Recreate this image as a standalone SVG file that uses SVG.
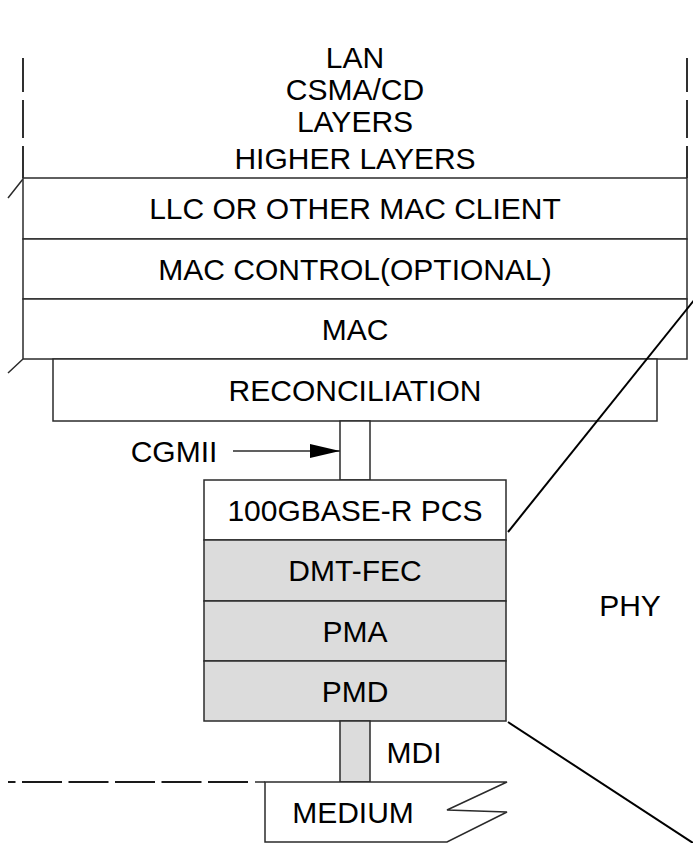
<svg xmlns="http://www.w3.org/2000/svg" width="693" height="843" viewBox="0 0 693 843">
  <defs>
    <style>
      .box { fill: #ffffff; stroke: #2b2b2b; stroke-width: 1.5; }
      .shade { fill: #dcdcdc; stroke: #2b2b2b; stroke-width: 1.5; }
      .rule { fill: none; stroke: #2b2b2b; stroke-width: 1.5; }
      .dash { fill: none; stroke: #1a1a1a; stroke-width: 1.8; }
      .fan { fill: none; stroke: #000000; stroke-width: 2; }
      text { font-family: "Liberation Sans", Arial, sans-serif; font-size: 30px; fill: #000000; text-anchor: middle; }
    </style>
    <marker id="arrowhead" viewBox="0 0 30 14" refX="30" refY="7" markerWidth="30" markerHeight="14" markerUnits="userSpaceOnUse" orient="auto">
      <path d="M0,0 L30,7 L0,14 Z" fill="#000000"/>
    </marker>
  </defs>

  <!-- Title of the layer stack -->
  <g id="title">
    <text x="355" y="68">LAN</text>
    <text x="355" y="100">CSMA/CD</text>
    <text x="355" y="132">LAYERS</text>
  </g>

  <!-- Dashed side walls above the stack -->
  <g id="walls">
    <path class="dash" d="M23,58V92M23,100V138M23,146V178"/>
    <path class="dash" d="M687,58V92M687,100V138M687,146V178"/>
    <path class="rule" d="M23,179L8,198M23,359L8,373"/>
  </g>

  <g id="higher-layers">
    <text x="355" y="169">HIGHER LAYERS</text>
  </g>

  <g id="llc">
    <rect class="box" x="23" y="178" width="664" height="61"/>
    <text x="355" y="219">LLC OR OTHER MAC CLIENT</text>
  </g>

  <g id="mac-control">
    <rect class="box" x="23" y="239" width="664" height="60"/>
    <text x="355" y="280">MAC CONTROL(OPTIONAL)</text>
  </g>

  <g id="mac">
    <rect class="box" x="23" y="299" width="664" height="60"/>
    <text x="355" y="340">MAC</text>
  </g>

  <g id="reconciliation">
    <rect class="box" x="53" y="359" width="604" height="62"/>
    <text x="355" y="401">RECONCILIATION</text>
  </g>

  <g id="cgmii">
    <rect class="box" x="340" y="421" width="30" height="59"/>
    <text x="174" y="462">CGMII</text>
  </g>

  <g id="pcs">
    <rect class="box" x="204" y="480" width="302" height="60"/>
    <text x="355" y="521">100GBASE-R PCS</text>
  </g>

  <g id="dmt-fec">
    <rect class="shade" x="204" y="540" width="302" height="61"/>
    <text x="355" y="581">DMT-FEC</text>
  </g>

  <g id="pma">
    <rect class="shade" x="204" y="601" width="302" height="60"/>
    <text x="355" y="642">PMA</text>
  </g>

  <g id="pmd">
    <rect class="shade" x="204" y="661" width="302" height="60"/>
    <text x="355" y="702">PMD</text>
  </g>

  <g id="mdi">
    <rect class="shade" x="340" y="721" width="30" height="61"/>
    <text x="414" y="763">MDI</text>
  </g>

  <g id="medium">
    <path class="dash" d="M248,782H8" stroke-dasharray="40 6.5"/>
    <path class="box" d="M265,782H507L447,810L507,812L447,842H265Z"/>
    <path class="rule" d="M255,782H265"/>
    <text x="353" y="823">MEDIUM</text>
  </g>

  <g id="phy">
    <text x="630" y="616">PHY</text>
  </g>

  <!-- Connectors: CGMII pointer and the PHY fan lines -->
  <g id="connectors">
    <path class="rule" d="M233,451H340" marker-end="url(#arrowhead)"/>
    <path class="fan" d="M508,532L695,299"/>
    <path class="fan" d="M508,722L693,843"/>
  </g>
</svg>
